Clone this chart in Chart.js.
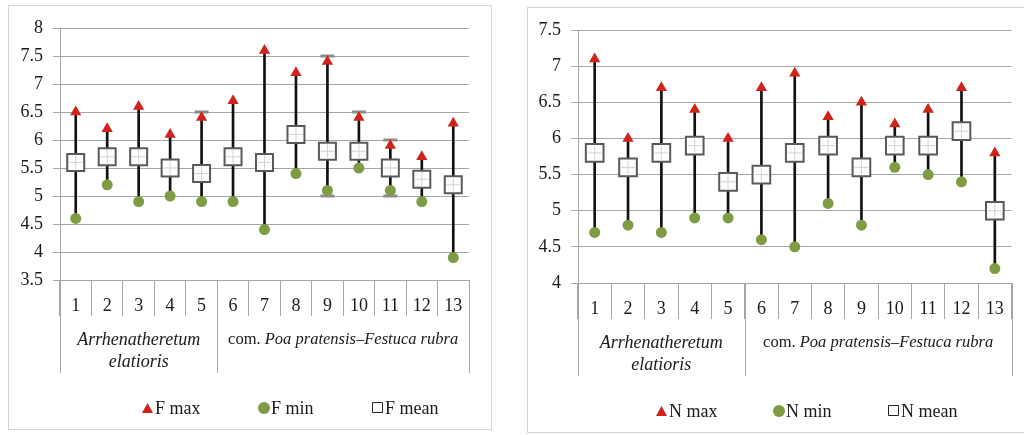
<!DOCTYPE html>
<html>
<head>
<meta charset="utf-8">
<script src="https://cdn.jsdelivr.net/npm/chart.js@4.4.1/dist/chart.umd.min.js"></script>
<style>
body { margin: 0; background: #fff; width: 1024px; height: 435px; overflow: hidden; position: relative; }
.box { position: absolute; border: 1px solid #d4d4d4; box-sizing: border-box; background: #fff; }
.box canvas { position: absolute; left: 0; top: 0; }
</style>
</head>
<body>
<div class="box" style="left:8px;top:5px;width:484px;height:425px;">
  <canvas id="chartF" width="482" height="423" style="width:482px;height:423px;"></canvas>
</div>
<div class="box" style="left:527px;top:7px;width:500px;height:426px;">
  <canvas id="chartN" width="498" height="424" style="width:498px;height:424px;"></canvas>
</div>
<script>
// sites 1-13, two communities
var sites = ["1", "2", "3", "4", "5", "6", "7", "8", "9", "10", "11", "12", "13"];
var groupFirst = [0, 5];
var groupLines = [
    [[["Arrhenatheretum", true]], [["elatioris", true]]],
    [[["com. ", false], ["Poa pratensis\u2013Festuca rubra", true]]]
];
var groupFontSize = [18, 16.5];

// F (moisture) indicator values
var fMax  = [6.5, 6.2, 6.6, 6.1, 6.4, 6.7, 7.6, 7.2, 7.4, 6.4, 5.9, 5.7, 6.3];
var fMin  = [4.6, 5.2, 4.9, 5.0, 4.9, 4.9, 4.4, 5.4, 5.1, 5.5, 5.1, 4.9, 3.9];
var fMean = [5.6, 5.7, 5.7, 5.5, 5.4, 5.7, 5.6, 6.1, 5.8, 5.8, 5.5, 5.3, 5.2];
var fCapHigh = [null, null, null, null, 6.5, null, null, null, 7.5, 6.5, 6.0, null, null];
var fCapLow  = [null, null, null, null, null, null, null, null, 5.0, null, 5.0, null, null];
var fTicks = [3.5, 8];

// N (nutrients) indicator values
var nMax  = [7.1, 6.0, 6.7, 6.4, 6.0, 6.7, 6.9, 6.3, 6.5, 6.2, 6.4, 6.7, 5.8];
var nMin  = [4.7, 4.8, 4.7, 4.9, 4.9, 4.6, 4.5, 5.1, 4.8, 5.6, 5.5, 5.4, 4.2];
var nMean = [5.8, 5.6, 5.8, 5.9, 5.4, 5.5, 5.8, 5.9, 5.6, 5.9, 5.9, 6.1, 5.0];
var nTicks = [4, 7.5];

var RED = "#d0241a";
var GREEN = "#7f9c45";
var GRID = "#a6a6a6";
var FONT = "'Liberation Serif', 'Times New Roman', serif";

// group labels under the axis + legend
var axisDecor = {
    id: "axisDecor",
    afterDraw: function (chart, args, opts) {
        var ctx = chart.ctx, x = chart.scales.x, area = chart.chartArea;
        var n = chart.data.labels.length;
        function edge(i) {
            if (i <= 0) return x.left;
            if (i >= n) return x.right;
            return (x.getPixelForValue(i - 1) + x.getPixelForValue(i)) / 2;
        }
        ctx.save();
        ctx.strokeStyle = GRID;
        ctx.lineWidth = 1;
        var ends = groupFirst.concat([n]);
        ends.forEach(function (i) {
            var px = Math.round(edge(i)) + 0.5;
            ctx.beginPath();
            ctx.moveTo(px, area.bottom);
            ctx.lineTo(px, area.bottom + opts.groupDepth);
            ctx.stroke();
        });
        ctx.fillStyle = "#1a1a1a";
        ctx.textBaseline = "middle";
        ctx.textAlign = "left";
        groupLines.forEach(function (lines, g) {
            var cx = (edge(groupFirst[g]) + edge(ends[g + 1])) / 2;
            var size = groupFontSize[g];
            lines.forEach(function (runs, li) {
                var w = 0;
                runs.forEach(function (r) {
                    ctx.font = (r[1] ? "italic " : "") + size + "px " + FONT;
                    w += ctx.measureText(r[0]).width;
                });
                var px = cx - w / 2;
                var py = area.bottom + opts.groupY + li * 22;
                runs.forEach(function (r) {
                    ctx.font = (r[1] ? "italic " : "") + size + "px " + FONT;
                    ctx.fillText(r[0], px, py);
                    px += ctx.measureText(r[0]).width;
                });
            });
        });
        // legend
        var ly = area.bottom + opts.legendY;
        opts.legend.forEach(function (item, i) {
            var sx = area.left + opts.legendX[i];
            ctx.beginPath();
            if (item[1] === "triangle") {
                ctx.fillStyle = RED;
                ctx.moveTo(sx, ly + 5);
                ctx.lineTo(sx + 11, ly + 5);
                ctx.lineTo(sx + 5.5, ly - 5);
                ctx.closePath();
                ctx.fill();
            } else if (item[1] === "circle") {
                ctx.fillStyle = GREEN;
                ctx.arc(sx + 6, ly, 6, 0, Math.PI * 2);
                ctx.fill();
            } else {
                ctx.fillStyle = "#fff";
                ctx.strokeStyle = "#222";
                ctx.rect(sx + 0.5, ly - 5.5, 10, 10);
                ctx.fill();
                ctx.stroke();
            }
            ctx.fillStyle = "#1a1a1a";
            ctx.font = "18px " + FONT;
            ctx.fillText(item[0], sx + 13, ly + 1);
        });
        ctx.restore();
    }
};

function makeChart(id, maxV, minV, meanV, capHigh, capLow, range, legend, boxR, pad) {
    var datasets = [
        {
            type: "bar",
            label: "range",
            data: minV.map(function (v, i) { return [v, maxV[i]]; }),
            backgroundColor: "#111",
            barThickness: 2,
            order: 6
        },
        {
            type: "line", label: legend[0][0], data: maxV, showLine: false,
            pointStyle: "triangle", pointRadius: 6.5, pointBackgroundColor: RED,
            pointBorderColor: RED, pointBorderWidth: 0, order: 3
        },
        {
            type: "line", label: legend[1][0], data: minV, showLine: false,
            pointStyle: "circle", pointRadius: 5.5, pointBackgroundColor: GREEN,
            pointBorderColor: GREEN, pointBorderWidth: 0, order: 3
        },
        {
            type: "line", label: legend[2][0], data: meanV, showLine: false,
            pointStyle: "rect", pointRadius: boxR, pointBackgroundColor: "#fff",
            pointBorderColor: "#595959", pointBorderWidth: 2, order: 2
        },
        {
            type: "line", label: "mean mark", data: meanV, showLine: false,
            pointStyle: "cross", pointRadius: 7, pointBorderColor: "#d2d2d2",
            pointBorderWidth: 1, order: 1
        }
    ];
    if (capHigh) {
        [capHigh, capLow].forEach(function (caps) {
            datasets.push({
                type: "line", label: "cap", data: caps, showLine: false,
                pointStyle: "line", pointRadius: 7, pointBorderColor: "#8c8c8c",
                pointBorderWidth: 3, order: 4
            });
        });
    }
    return new Chart(id, {
        type: "bar",
        data: { labels: sites, datasets: datasets },
        plugins: [axisDecor],
        options: {
            responsive: false,
            animation: false,
            events: [],
            layout: { padding: pad },
            plugins: {
                legend: { display: false },
                tooltip: { enabled: false },
                axisDecor: {
                    groupDepth: 93,
                    groupY: 60,
                    legendY: 128,
                    legendX: legend.map(function (l) { return l[2]; }),
                    legend: legend
                }
            },
            scales: {
                x: {
                    offset: true,
                    grid: { offset: true, drawOnChartArea: false, tickLength: 36, color: GRID },
                    border: { color: GRID },
                    ticks: { font: { family: FONT, size: 18 }, color: "#1a1a1a", padding: -21 },
                    afterFit: function (s) { s.height = 149; }
                },
                y: {
                    min: range[0],
                    max: range[1],
                    grid: { color: GRID, tickLength: 7 },
                    border: { color: GRID },
                    ticks: {
                        stepSize: 0.5,
                        font: { family: FONT, size: 18 },
                        color: "#1a1a1a",
                        padding: 10,
                        callback: function (v) { return String(v); }
                    },
                    afterFit: function (s) { s.width = 40; }
                }
            }
        }
    });
}

document.addEventListener("DOMContentLoaded", function () {
    makeChart("chartF", fMax, fMin, fMean, fCapHigh, fCapLow, fTicks,
        [["F max", "triangle", 82], ["F min", "circle", 198], ["F mean", "square", 312]],
        12, { left: 11, right: 22, top: 22, bottom: 0 });
    makeChart("chartN", nMax, nMin, nMean, null, null, nTicks,
        [["N max", "triangle", 78], ["N min", "circle", 195], ["N mean", "square", 310]],
        12.5, { left: 10, right: 13, top: 22, bottom: 0 });
});
</script>
</body>
</html>
